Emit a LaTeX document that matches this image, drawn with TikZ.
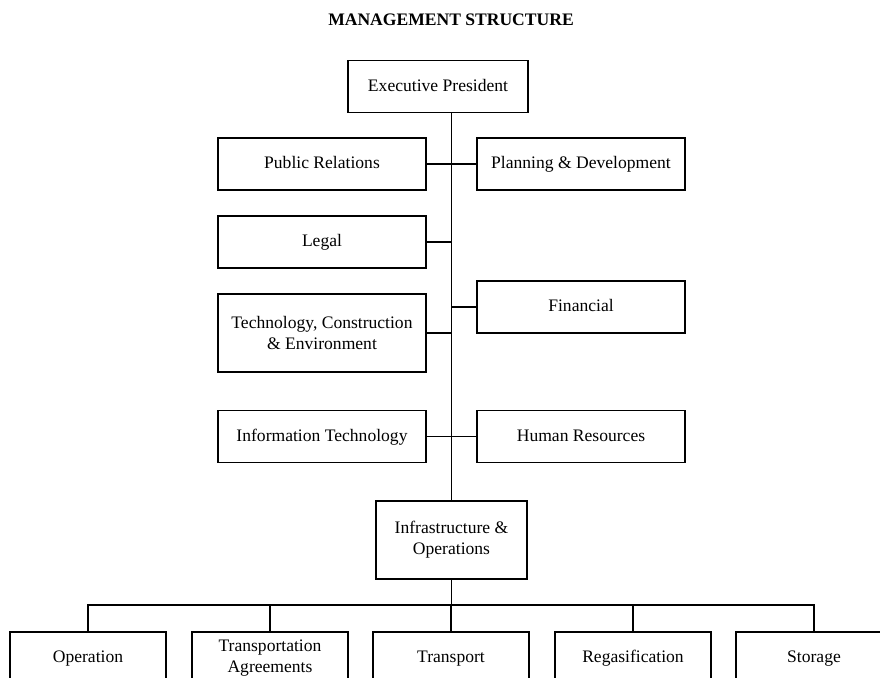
\documentclass[tikz,border=0pt]{standalone}
\usepackage{fontspec}
\setmainfont{Liberation Serif}
\usepackage{tikz}
\usetikzlibrary{positioning}

\begin{document}
\begin{tikzpicture}[x=0.02cm,y=-0.02cm,line width=0.7pt,
        unit/.style={draw,rectangle,align=center,minimum width=4.16cm,minimum height=1.04cm,inner sep=2pt,
                text height=1.6ex,text depth=0.45ex},
        twoline/.style={text height=,text depth=},
        tall/.style={unit,twoline,minimum height=1.56cm},
        branch/.style={unit,minimum width=3.12cm}]
        \clip (0,0) rectangle (880,678);

        \node[font=\bfseries] (title) at (451,20) {MANAGEMENT STRUCTURE};

        \node[unit,minimum width=3.6cm] (exec) at (438,86.5) {Executive President};
        \node[unit] (pr) at (322,164) {Public Relations};
        \node[unit] (plan) at (581,164) {Planning \& Development};
        \node[unit] (legal) at (322,242) {Legal};
        \node[tall] (tech) at (322,333) {Technology, Construction\\\& Environment};
        \node[unit] (fin) at (581,307) {Financial};
        \node[unit] (it) at (322,436.5) {Information Technology};
        \node[unit] (hr) at (581,436.5) {Human Resources};
        \node[tall,minimum width=3.02cm] (infra) at (451.5,540) {Infrastructure \&\\Operations};

        \node[branch] (op) at (88,658) {Operation};
        \node[branch,twoline] (ta) at (270,658) {Transportation\\Agreements};
        \node[branch] (tr) at (451,658) {Transport};
        \node[branch] (reg) at (633,658) {Regasification};
        \node[branch] (sto) at (814,658) {Storage};

        \coordinate (bus) at (451.5,605);

        % trunk and side branches
        \draw (exec.south -| infra.north) -- (infra.north);
        \foreach \n in {pr,legal,tech,it} \draw (\n.east) -- (\n.east -| infra.north);
        \foreach \n in {plan,fin,hr} \draw (\n.west) -- (\n.west -| infra.north);

        % lower level
        \draw (infra.south) -- (bus);
        \draw (op.north) |- (bus) -| (sto.north);
        \foreach \n in {ta,tr,reg} \draw (\n.north) -- (\n.north |- bus);
    \end{tikzpicture}
\end{document}
